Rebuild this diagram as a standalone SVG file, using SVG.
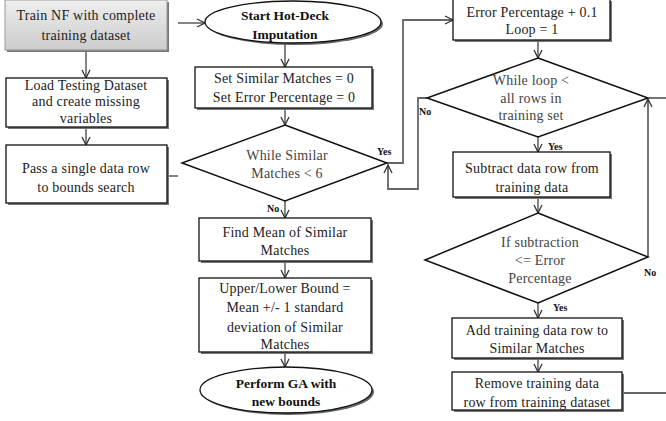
<svg xmlns="http://www.w3.org/2000/svg" width="666" height="421" viewBox="0 0 666 421">
<defs>
<linearGradient id="gray" x1="0" y1="0" x2="0" y2="1">
<stop offset="0" stop-color="#eeeeee"/>
<stop offset="1" stop-color="#cccccc"/>
</linearGradient>
<marker id="arr" markerWidth="10" markerHeight="10" refX="9" refY="5" orient="auto" markerUnits="userSpaceOnUse">
<path d="M1,1 L9,5 L1,9" fill="none" stroke="#333" stroke-width="1.3"/>
</marker>
</defs>
<style>
.box{fill:#fff;stroke:#111;stroke-width:1.3}
.shadow{fill:#777;stroke:none}
.dia{fill:#fff;stroke:#111;stroke-width:1.5}
text{font-family:'Liberation Serif','Times New Roman','DejaVu Serif',serif}
.t{font-size:14px;fill:#222;text-anchor:middle;letter-spacing:0.2px}
.tb{font-size:13.5px;font-weight:bold;fill:#111;text-anchor:middle}
.td{font-size:14px;fill:#444;text-anchor:middle;letter-spacing:0.2px}
.lbl{font-size:10px;font-weight:bold;fill:#111}
.c{fill:none;stroke:#333;stroke-width:1.2}
.cg{fill:none;stroke:#666;stroke-width:1.8}
</style>
<rect width="666" height="421" fill="#fff"/>

<g id="connectors">
<line class="c" x1="86" y1="50" x2="86" y2="78" marker-end="url(#arr)"/>
<line class="c" x1="86" y1="127" x2="86" y2="145" marker-end="url(#arr)"/>
<line class="c" x1="178" y1="23" x2="205" y2="23" marker-end="url(#arr)"/>
<line class="c" x1="167" y1="176" x2="178" y2="176"/>
<line class="c" x1="285" y1="43" x2="285" y2="67" marker-end="url(#arr)"/>
<line class="c" x1="285" y1="108" x2="285" y2="125" marker-end="url(#arr)"/>
<line class="c" x1="285" y1="201" x2="285" y2="218" marker-end="url(#arr)"/>
<line class="c" x1="285" y1="261" x2="285" y2="278" marker-end="url(#arr)"/>
<line class="c" x1="285" y1="352" x2="285" y2="367" marker-end="url(#arr)"/>
<polyline class="cg" points="387,163 403,163 403,20 453,20" marker-end="url(#arr)"/>
<polyline class="cg" points="427,98 418,98 418,189 388,189 388,165" marker-end="url(#arr)"/>
<line class="c" x1="538" y1="40" x2="538" y2="58" marker-end="url(#arr)"/>
<line class="c" x1="538" y1="137" x2="538" y2="152" marker-end="url(#arr)"/>
<line class="c" x1="538" y1="197" x2="538" y2="213" marker-end="url(#arr)"/>
<line class="c" x1="538" y1="303" x2="538" y2="318" marker-end="url(#arr)"/>
<line class="c" x1="538" y1="358" x2="538" y2="372" marker-end="url(#arr)"/>
<line class="cg" x1="648" y1="257" x2="648" y2="99" marker-end="url(#arr)"/>
<line class="cg" x1="666" y1="98" x2="649" y2="98"/>
<line class="cg" x1="622" y1="393" x2="666" y2="393"/>
</g>

<g id="train">
<rect x="7" y="2" width="162" height="50" class="shadow"/>
<rect x="5" y="0" width="162" height="50" fill="url(#gray)" stroke="#999" stroke-width="1"/>
<text class="t" x="86" y="20">Train NF with complete</text>
<text class="t" x="86" y="40">training dataset</text>
</g>

<g id="load">
<rect x="8" y="80" width="161" height="49" class="shadow"/>
<rect x="6" y="78" width="161" height="49" class="box"/>
<text class="t" x="86" y="90">Load Testing Dataset</text>
<text class="t" x="86" y="106">and create missing</text>
<text class="t" x="86" y="123">variables</text>
</g>

<g id="pass">
<rect x="8" y="147" width="161" height="58" class="shadow"/>
<rect x="6" y="145" width="161" height="58" class="box"/>
<text class="t" x="86" y="173">Pass a single data row</text>
<text class="t" x="86" y="192">to bounds search</text>
</g>

<g id="start">
<ellipse cx="295" cy="24" rx="88" ry="21" fill="#666"/>
<ellipse cx="293" cy="22" rx="88" ry="21" class="box"/>
<text class="tb" x="285" y="20">Start Hot-Deck</text>
<text class="tb" x="285" y="39">Imputation</text>
</g>

<g id="setzero">
<rect x="197" y="69" width="177" height="41" class="shadow"/>
<rect x="195" y="67" width="177" height="41" class="box"/>
<text class="t" x="284" y="83">Set Similar  Matches = 0</text>
<text class="t" x="284" y="102">Set Error Percentage = 0</text>
</g>

<g id="while-similar">
<polygon class="dia" points="285,125 387,163 285,201 182,163"/>
<text class="td" x="287" y="160">While Similar</text>
<text class="td" x="287" y="178">Matches &lt; 6</text>
<text class="lbl" x="377" y="155">Yes</text>
<text class="lbl" x="267" y="212">No</text>
</g>

<g id="findmean">
<rect x="201" y="220" width="172" height="43" class="shadow"/>
<rect x="199" y="218" width="172" height="43" class="box"/>
<text class="t" x="285" y="237">Find Mean of Similar</text>
<text class="t" x="285" y="255">Matches</text>
</g>

<g id="bounds">
<rect x="201" y="280" width="172" height="74" class="shadow"/>
<rect x="199" y="278" width="172" height="74" class="box"/>
<text class="t" x="285" y="293">Upper/Lower Bound =</text>
<text class="t" x="285" y="312">Mean +/-  1 standard</text>
<text class="t" x="285" y="332">deviation of Similar</text>
<text class="t" x="285" y="349">Matches</text>
</g>

<g id="perform">
<ellipse cx="288" cy="392" rx="86" ry="23" fill="#666"/>
<ellipse cx="286" cy="390" rx="86" ry="23" class="box"/>
<text class="tb" x="286" y="388">Perform GA with</text>
<text class="tb" x="286" y="406">new bounds</text>
</g>

<g id="errorinc">
<rect x="455" y="1" width="157" height="41" class="shadow"/>
<rect x="453" y="-1" width="157" height="41" class="box"/>
<text class="t" x="532" y="17">Error Percentage + 0.1</text>
<text class="t" x="532" y="34">Loop = 1</text>
</g>

<g id="while-loop">
<polygon class="dia" points="538,58 648,98 538,137 427,98"/>
<text class="td" x="531" y="85">While loop  &lt;</text>
<text class="td" x="531" y="103">all rows in</text>
<text class="td" x="531" y="120">training set</text>
<text class="lbl" x="419" y="115">No</text>
<text class="lbl" x="548" y="150">Yes</text>
</g>

<g id="subtract">
<rect x="455" y="154" width="157" height="45" class="shadow"/>
<rect x="453" y="152" width="157" height="45" class="box"/>
<text class="t" x="532" y="173">Subtract data row from</text>
<text class="t" x="532" y="192">training data</text>
</g>

<g id="if-sub">
<polygon class="dia" points="538,213 648,257 538,303 425,260"/>
<text class="td" x="540" y="247">If subtraction</text>
<text class="td" x="540" y="265">&lt;= Error</text>
<text class="td" x="540" y="283">Percentage</text>
<text class="lbl" x="644" y="276">No</text>
<text class="lbl" x="553" y="311">Yes</text>
</g>

<g id="add">
<rect x="454" y="320" width="170" height="40" class="shadow"/>
<rect x="452" y="318" width="170" height="40" class="box"/>
<text class="t" x="537" y="335">Add training data row to</text>
<text class="t" x="537" y="353">Similar Matches</text>
</g>

<g id="remove">
<rect x="454" y="374" width="170" height="38" class="shadow"/>
<rect x="452" y="372" width="170" height="38" class="box"/>
<text class="t" x="537" y="388">Remove training data</text>
<text class="t" x="537" y="407">row from training dataset</text>
</g>
</svg>
